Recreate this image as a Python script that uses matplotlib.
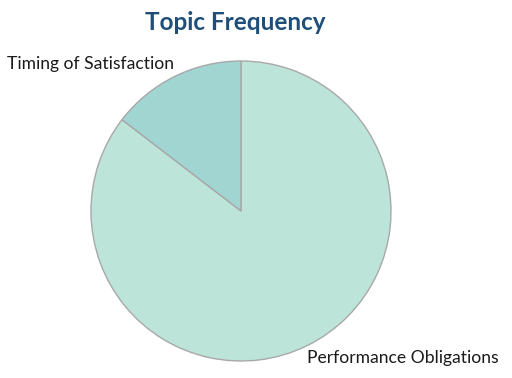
import matplotlib.pyplot as plt

topics = ['Performance Obligations', 'Timing of Satisfaction']
counts = [41, 7]
colors = ['#bde4d9', '#a1d5d1']

plt.rcParams['font.family'] = ['Lato', 'DejaVu Sans']

fig = plt.figure(figsize=(5.12, 3.78), dpi=100)
W, H = 512, 378
cx, cy, r = 241, 211, 150
ax = fig.add_axes([(cx - r) / W, (H - cy - r) / H, 2 * r / W, 2 * r / H])

ax.pie(counts, colors=colors, startangle=90, counterclock=False,
       wedgeprops=dict(edgecolor='#a8a8a8', linewidth=1))
ax.set_xlim(-1, 1)
ax.set_ylim(-1, 1)
ax.set_aspect('equal')

fig.text(235 / W, 1 - 22 / H, 'Topic Frequency', ha='center', va='center',
         fontsize=17.5, fontweight='bold', color='#1f4e79')
fig.text(7 / W, 1 - 64 / H, topics[1], ha='left', va='center', fontsize=12.6, color='#1a1a1a')
fig.text(307 / W, 1 - 358 / H, topics[0], ha='left', va='center', fontsize=12.6, color='#1a1a1a')

fig.savefig('out.png', dpi=100)
